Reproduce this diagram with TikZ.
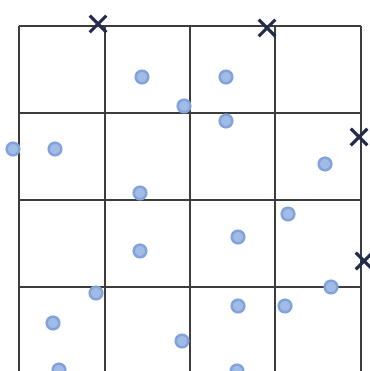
\documentclass[tikz,border=0pt]{standalone}
\usepackage{tikz}
\usetikzlibrary{shapes.misc}
\definecolor{mygrid}{RGB}{60,60,60}
\definecolor{myblue}{RGB}{130,163,218}
\definecolor{mylight}{RGB}{160,188,230}
\definecolor{mynavy}{RGB}{35,45,75}
\tikzset{
  gridline/.style={line width=0.45pt, color=mygrid},
  sample/.style={circle, fill=mylight, draw=myblue, line width=0.7pt,
    minimum size=3.6pt, inner sep=0pt},
  center/.style={cross out, draw=mynavy, line width=0.9pt,
    minimum size=3.8pt, inner sep=0pt}
}

\begin{document}
\begin{tikzpicture}[x=0.01cm, y=-0.01cm]
  \useasboundingbox (0,0) rectangle (369,371);
  % grid
  \foreach \gx in {19,105,190,275,361}
    \draw[gridline] (\gx,26) -- (\gx,371);
  \foreach \gy in {26,113,200,287}
    \draw[gridline] (19,\gy) -- (361,\gy);

  % data points
  \foreach \px/\py [count=\i] in {142/77, 184/106, 13/149, 55/149, 226/77,
      226/121, 325/164, 140/193, 140/251, 96/293, 53/323, 59/370,
      182/341, 288/214, 238/237, 331/287, 238/306, 285/306, 237/371}
    \node[sample] (p\i) at (\px,\py) {};

  % cluster centres
  \foreach \cx/\cy [count=\i] in {98/24, 267/28, 359/137, 364/261}
    \node[center] (c\i) at (\cx,\cy) {};
\end{tikzpicture}
\end{document}
